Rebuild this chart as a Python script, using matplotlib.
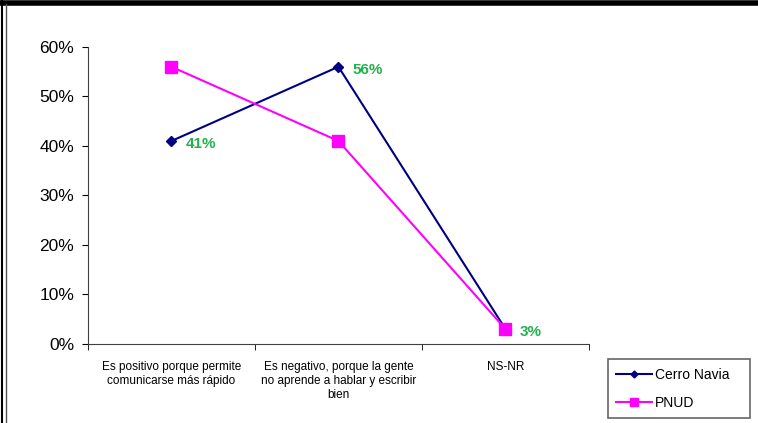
import matplotlib.pyplot as plt
from matplotlib.lines import Line2D
from matplotlib.ticker import FixedLocator, FuncFormatter

plt.rcParams['font.family'] = ['Liberation Sans', 'DejaVu Sans']

categorias = ["Es positivo porque permite\ncomunicarse más rápido",
              "Es negativo, porque la gente\nno aprende a hablar y escribir\nbien",
              "NS-NR"]
cerro_navia = [0.41, 0.56, 0.03]
pnud = [0.56, 0.41, 0.03]
etiquetas = ["41%", "56%", "3%"]

fig = plt.figure(figsize=(7.58, 4.23), dpi=100)
ax = fig.add_axes([0.116, 0.187, 0.661, 0.702])

x = list(range(len(categorias)))
ax.plot(x, cerro_navia, color='#000080', marker='D', markersize=5, lw=1.5, label='Cerro Navia')
ax.plot(x, pnud, color='#ff00ff', marker='s', markersize=8, lw=1.5, label='PNUD')

for xi, v, t in zip(x, cerro_navia, etiquetas):
    ax.annotate(t, (xi, v), xytext=(10, -2), textcoords='offset points',
                color='#22b14c', fontsize=11, fontweight='bold', va='center')

ax.set_xlim(-0.5, 2.5)
ax.set_ylim(0, 0.6)
ax.set_yticks([0, 0.1, 0.2, 0.3, 0.4, 0.5, 0.6])
ax.yaxis.set_major_formatter(FuncFormatter(lambda v, p: f"{v*100:.0f}%"))
ax.tick_params(axis='y', labelsize=12.5, length=4, direction='out', pad=6)

ax.set_xticks(x)
ax.set_xticklabels(categorias, fontsize=8.5, linespacing=1.25)
ax.tick_params(axis='x', which='major', length=0, pad=12)
ax.xaxis.set_minor_locator(FixedLocator([-0.5, 0.5, 1.5, 2.5]))
ax.tick_params(axis='x', which='minor', length=4, direction='out')

for s in ['top', 'right']:
    ax.spines[s].set_visible(False)
for s in ['left', 'bottom']:
    ax.spines[s].set_color('#404040')

leg = fig.legend(loc='lower left', bbox_to_anchor=(0.802, 0.012, 0.188, 0.142),
                 mode='expand', fontsize=10, frameon=True, fancybox=False,
                 handlelength=2.6, borderpad=0.6, labelspacing=1.0, markerscale=0.7,
                 handletextpad=0.2, borderaxespad=0)
leg.get_frame().set_edgecolor('#404040')
leg.get_frame().set_linewidth(1.2)

# black border of the original picture
fig.add_artist(Line2D([0, 1], [0.994, 0.994], color='black', lw=4, transform=fig.transFigure))
fig.add_artist(Line2D([0.002, 0.002], [0, 1], color='black', lw=1.5, transform=fig.transFigure))
fig.add_artist(Line2D([0.008, 0.008], [0, 0.99], color='#555555', lw=1, transform=fig.transFigure))

fig.savefig('out.png', dpi=100)
